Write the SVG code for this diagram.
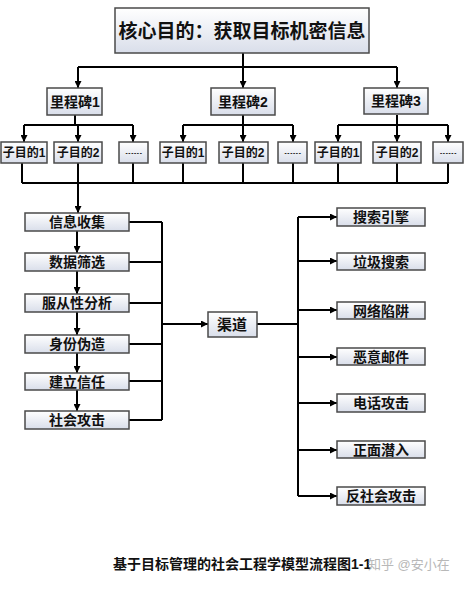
<svg xmlns="http://www.w3.org/2000/svg" width="465" height="595" viewBox="0 0 465 595">
<defs>
<linearGradient id="g" x1="0" y1="0" x2="0" y2="1">
<stop offset="0" stop-color="#ffffff"/>
<stop offset="1" stop-color="#d9deea"/>
</linearGradient>
<marker id="a" viewBox="0 0 10 10" refX="10" refY="5" markerWidth="7" markerHeight="7" markerUnits="userSpaceOnUse" orient="auto">
<path d="M0,0 L10,5 L0,10 z" fill="#000"/>
</marker>
<style>
rect{fill:url(#g);stroke:#4a4a4a;stroke-width:1.5}
text{font-family:"Liberation Sans","Noto Sans CJK SC",sans-serif;font-weight:bold;fill:#111;text-anchor:middle;dominant-baseline:central}
.c path{fill:none;stroke:#000;stroke-width:2}
.m{font-size:14px}.s{font-size:12px}.f{font-size:14px}
.d{font-size:6.5px;letter-spacing:0.7px}
</style>
</defs>
<rect x="0" y="0" width="465" height="595" style="fill:#fff;stroke:none"/>
<g class="c">
<path d="M243,53V67"/>
<path d="M78,67H397"/>
<path d="M78,67V88" marker-end="url(#a)"/>
<path d="M243,67V88" marker-end="url(#a)"/>
<path d="M397,67V88" marker-end="url(#a)"/>
<path d="M75,115V125M24,125H133"/>
<path d="M24,125V142" marker-end="url(#a)"/>
<path d="M78,125V142" marker-end="url(#a)"/>
<path d="M133,125V142" marker-end="url(#a)"/>
<path d="M243,115V125M183,125H293"/>
<path d="M183,125V142" marker-end="url(#a)"/>
<path d="M243,125V142" marker-end="url(#a)"/>
<path d="M293,125V142" marker-end="url(#a)"/>
<path d="M397,115V125M338,125H448"/>
<path d="M338,125V142" marker-end="url(#a)"/>
<path d="M397,125V142" marker-end="url(#a)"/>
<path d="M448,125V142" marker-end="url(#a)"/>
<path d="M22,163V183M133,163V183M183,163V183M243,163V183M293,163V183M338,163V183M397,163V183M448,163V183M22,183H448"/>
<path d="M78,163V213" marker-end="url(#a)"/>
<path d="M77,231V253" marker-end="url(#a)"/>
<path d="M77,271V294" marker-end="url(#a)"/>
<path d="M77,312V335" marker-end="url(#a)"/>
<path d="M77,353V373" marker-end="url(#a)"/>
<path d="M77,390V411" marker-end="url(#a)"/>
<path d="M129,222H162M129,262H162M129,303H162M129,344H162M129,381H162M129,420H162M162,222V420"/>
<path d="M162,324H208" marker-end="url(#a)"/>
<path d="M257,324H298M298,217V496"/>
<path d="M298,217H337" marker-end="url(#a)"/>
<path d="M298,261H337" marker-end="url(#a)"/>
<path d="M298,310H337" marker-end="url(#a)"/>
<path d="M298,357H337" marker-end="url(#a)"/>
<path d="M298,403H337" marker-end="url(#a)"/>
<path d="M298,450H337" marker-end="url(#a)"/>
<path d="M298,496H337" marker-end="url(#a)"/>
</g>
<g id="top"><rect x="115" y="8" width="254" height="45"/><text x="242" y="31" style="font-size:19px">核心目的：获取目标机密信息</text></g>
<g id="m1"><rect x="47" y="88" width="55" height="27"/><text class="m" x="75" y="102">里程碑1</text></g>
<g id="m2"><rect x="211" y="88" width="64" height="27"/><text class="m" x="243" y="102">里程碑2</text></g>
<g id="m3"><rect x="364" y="88" width="64" height="26"/><text class="m" x="396" y="101">里程碑3</text></g>
<g id="s11"><rect x="1" y="142" width="46" height="21"/><text class="s" x="24" y="153">子目的1</text></g>
<g id="s12"><rect x="54" y="142" width="48" height="21"/><text class="s" x="78" y="153">子目的2</text></g>
<g id="s13"><rect x="119" y="142" width="29" height="21"/><text class="d" x="134" y="152.5">------</text></g>
<g id="s21"><rect x="160" y="142" width="46" height="21"/><text class="s" x="183" y="153">子目的1</text></g>
<g id="s22"><rect x="219" y="142" width="49" height="21"/><text class="s" x="243" y="153">子目的2</text></g>
<g id="s23"><rect x="278" y="142" width="29" height="21"/><text class="d" x="293" y="152.5">------</text></g>
<g id="s31"><rect x="315" y="142" width="46" height="21"/><text class="s" x="338" y="153">子目的1</text></g>
<g id="s32"><rect x="373" y="142" width="48" height="21"/><text class="s" x="397" y="153">子目的2</text></g>
<g id="s33"><rect x="433" y="142" width="30" height="21"/><text class="d" x="448.5" y="152.5">------</text></g>
<g id="f1"><rect x="25" y="213" width="104" height="18"/><text class="f" x="77" y="222">信息收集</text></g>
<g id="f2"><rect x="25" y="253" width="104" height="18"/><text class="f" x="77" y="262">数据筛选</text></g>
<g id="f3"><rect x="25" y="294" width="104" height="18"/><text class="f" x="77" y="303">服从性分析</text></g>
<g id="f4"><rect x="25" y="335" width="104" height="18"/><text class="f" x="77" y="344">身份伪造</text></g>
<g id="f5"><rect x="25" y="373" width="104" height="17"/><text class="f" x="77" y="381.5">建立信任</text></g>
<g id="f6"><rect x="25" y="411" width="104" height="18"/><text class="f" x="77" y="420">社会攻击</text></g>
<g id="ch"><rect x="208" y="312" width="49" height="25"/><text x="232" y="324.5" style="font-size:15px">渠道</text></g>
<g id="r1"><rect x="337" y="208" width="88" height="18"/><text class="f" x="381" y="217">搜索引擎</text></g>
<g id="r2"><rect x="337" y="253" width="88" height="17"/><text class="f" x="381" y="261.5">垃圾搜索</text></g>
<g id="r3"><rect x="337" y="302" width="88" height="17"/><text class="f" x="381" y="310.5">网络陷阱</text></g>
<g id="r4"><rect x="337" y="348" width="88" height="17"/><text class="f" x="381" y="356.5">恶意邮件</text></g>
<g id="r5"><rect x="337" y="394" width="88" height="18"/><text class="f" x="381" y="403">电话攻击</text></g>
<g id="r6"><rect x="337" y="441" width="88" height="17"/><text class="f" x="381" y="449.5">正面潜入</text></g>
<g id="r7"><rect x="337" y="487" width="88" height="18"/><text class="f" x="381" y="496">反社会攻击</text></g>
<text x="113" y="564" style="font-size:14px;text-anchor:start">基于目标管理的社会工程学模型流程图1-1</text>
<text x="368" y="564" style="font-size:13px;text-anchor:start;font-weight:normal;fill:#b8b8b8">知乎 @安小在</text>
</svg>
